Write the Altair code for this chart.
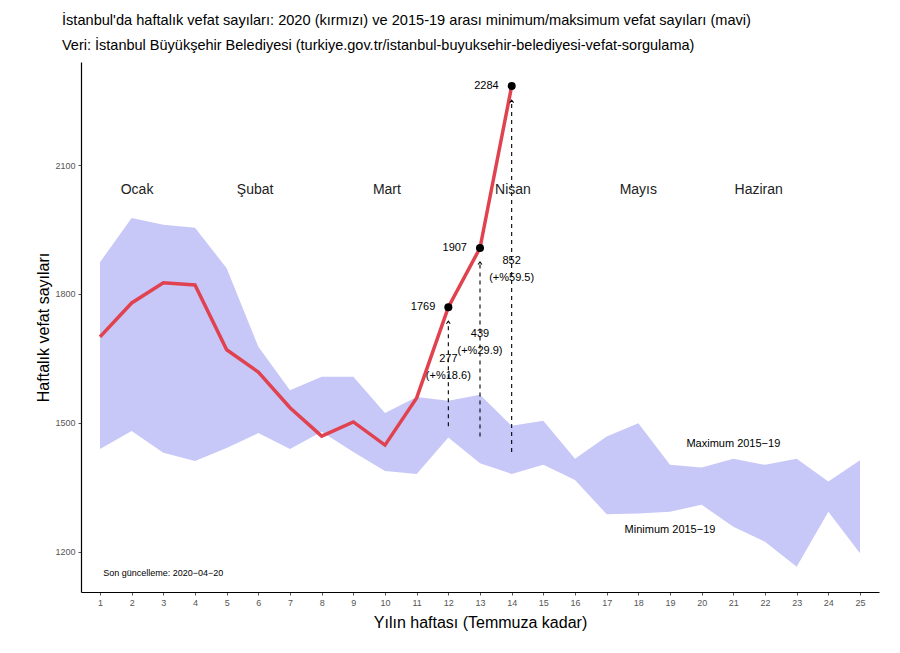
import altair as alt
import pandas as pd

# ---- data ----
weeks = list(range(1, 26))
max_2015_19 = [1874, 1977, 1961, 1954, 1860, 1677, 1576, 1607, 1607, 1523, 1560, 1551, 1565,
               1493, 1505, 1416, 1468, 1499, 1402, 1396, 1416, 1402, 1416, 1363, 1413]
min_2015_19 = [1439, 1481, 1430, 1411, 1441, 1476, 1439, 1479, 1432, 1388, 1381, 1466, 1406,
               1381, 1402, 1367, 1287, 1289, 1293, 1309, 1258, 1223, 1165, 1293, 1196]

weeks_2020 = list(range(1, 15))
deaths_2020 = [1700, 1779, 1826, 1821, 1670, 1618, 1535, 1469, 1502, 1448, 1558, 1769, 1907, 2284]

hl_weeks = [12, 13, 14]
hl_values = [1769, 1907, 2284]
hl_diff = [277, 439, 852]
hl_pct = ["18.6", "29.9", "59.5"]

months = ["Ocak", "Şubat", "Mart", "Nisan", "Mayıs", "Haziran"]
month_week = [2.17, 5.9, 10.06, 14.04, 18.0, 21.8]
month_level = 2042

band_labels = ["Maximum 2015\u221219", "Minimum 2015\u221219"]
band_label_week = [21.0, 19.0]
band_label_level = [1450, 1250]

note_text = ["Son güncelleme: 2020\u221204\u221220"]
note_week = [1.1]
note_level = [1150]

title_text = "İstanbul'da haftalık vefat sayıları: 2020 (kırmızı) ve 2015-19 arası minimum/maksimum vefat sayıları (mavi)"
subtitle_text = "Veri: İstanbul Büyükşehir Belediyesi (turkiye.gov.tr/istanbul-buyuksehir-belediyesi-vefat-sorgulama)"

x_ticks = weeks
y_ticks = [1200, 1500, 1800, 2100]
x_domain = [0.4, 25.6]
y_domain = [1106, 2340]

# ---- tables ----
band_df = pd.DataFrame({"week": weeks, "lo": min_2015_19, "hi": max_2015_19})
line_df = pd.DataFrame({"week": weeks_2020, "deaths": deaths_2020})
hl_df = pd.DataFrame({"week": hl_weeks, "value": hl_values, "diff": hl_diff, "pct": hl_pct})
hl_df["base"] = hl_df["value"] - hl_df["diff"]
hl_df["mid"] = (hl_df["value"] + hl_df["base"]) / 2
hl_df["vlabel"] = hl_df["value"].astype(str)
hl_df["clabel"] = hl_df["diff"].astype(str) + "\n(+%" + hl_df["pct"] + ")"
month_df = pd.DataFrame({"week": month_week, "y": [month_level] * len(months), "label": months})
blab_df = pd.DataFrame({"week": band_label_week, "y": band_label_level, "label": band_labels})
note_df = pd.DataFrame({"week": note_week, "y": note_level, "label": note_text})

FONT = "Liberation Sans"

xs = alt.Scale(domain=x_domain, nice=False, zero=False)
ys = alt.Scale(domain=y_domain, nice=False, zero=False)

x_axis = alt.Axis(values=x_ticks, tickCount=len(x_ticks) + 5, format="d",
                  title="Yılın haftası (Temmuza kadar)", labelOverlap=False)
y_axis = alt.Axis(values=y_ticks, tickCount=10, format="d", title="Haftalık vefat sayıları", labelOverlap=False)

band = alt.Chart(band_df).mark_area(color="#c8c8f8", opacity=1).encode(
    x=alt.X("week:Q", scale=xs, axis=x_axis),
    y=alt.Y("lo:Q", scale=ys, axis=y_axis),
    y2="hi:Q",
)

line = alt.Chart(line_df).mark_line(color="#e0434f", strokeWidth=3.5).encode(
    x=alt.X("week:Q", scale=xs),
    y=alt.Y("deaths:Q", scale=ys),
)

rules = alt.Chart(hl_df).mark_rule(color="black", strokeWidth=1.1, strokeDash=[4, 4], y2Offset=14).encode(
    x=alt.X("week:Q", scale=xs),
    y=alt.Y("base:Q", scale=ys),
    y2="value:Q",
)

arrows = alt.Chart(hl_df).mark_point(
    shape="M-0.6,0.8L0,0L0.6,0.8", filled=False, color="black", strokeWidth=1.1, size=40, yOffset=14, opacity=1
).encode(
    x=alt.X("week:Q", scale=xs),
    y=alt.Y("value:Q", scale=ys),
)

points = alt.Chart(hl_df).mark_circle(color="black", size=65, opacity=1).encode(
    x=alt.X("week:Q", scale=xs),
    y=alt.Y("value:Q", scale=ys),
)

vlabels = alt.Chart(hl_df).mark_text(align="right", baseline="middle", dx=-13, fontSize=11, font=FONT, color="black").encode(
    x=alt.X("week:Q", scale=xs),
    y=alt.Y("value:Q", scale=ys),
    text="vlabel:N",
)

clabels = alt.Chart(hl_df).mark_text(align="center", baseline="middle", lineBreak="\n", lineHeight=17, dy=-8,
                                     fontSize=11, font=FONT, color="black").encode(
    x=alt.X("week:Q", scale=xs),
    y=alt.Y("mid:Q", scale=ys),
    text="clabel:N",
)

mtext = alt.Chart(month_df).mark_text(align="center", baseline="middle", fontSize=14, font=FONT, color="#222222").encode(
    x=alt.X("week:Q", scale=xs),
    y=alt.Y("y:Q", scale=ys),
    text="label:N",
)

btext = alt.Chart(blab_df).mark_text(align="center", baseline="middle", fontSize=11, font=FONT, color="black").encode(
    x=alt.X("week:Q", scale=xs),
    y=alt.Y("y:Q", scale=ys),
    text="label:N",
)

ntext = alt.Chart(note_df).mark_text(align="left", baseline="middle", fontSize=9, font=FONT, color="black").encode(
    x=alt.X("week:Q", scale=xs),
    y=alt.Y("y:Q", scale=ys),
    text="label:N",
)

chart = alt.layer(band, line, rules, arrows, points, vlabels, clabels, mtext, btext, ntext).properties(
    width=798,
    height=530,
    padding={"left": 73, "top": 54, "right": 13, "bottom": 53},
    autosize=alt.AutoSizeParams(type="none"),
    title=alt.TitleParams(
        text=title_text,
        subtitle=subtitle_text,
        anchor="start",
        frame="group",
        dx=-19,
        offset=10,
        font=FONT,
        fontSize=14.6,
        fontWeight="normal",
        color="black",
        subtitleFont=FONT,
        subtitleFontSize=14.5,
        subtitleColor="black",
        subtitlePadding=11,
    ),
).configure_view(stroke=None).configure_axis(
    grid=False,
    domainColor="black",
    domainWidth=1.2,
    tickColor="#555555",
    tickSize=3,
    labelColor="#555555",
    labelFont=FONT,
    labelFontSize=9,
    labelPadding=3,
    titleFont=FONT,
    titleFontSize=16,
    titleFontWeight="normal",
    titleColor="black",
).configure_axisX(titlePadding=7).configure_axisY(titlePadding=3)

chart.save("out.html", embed_options={"renderer": "svg", "actions": False})
